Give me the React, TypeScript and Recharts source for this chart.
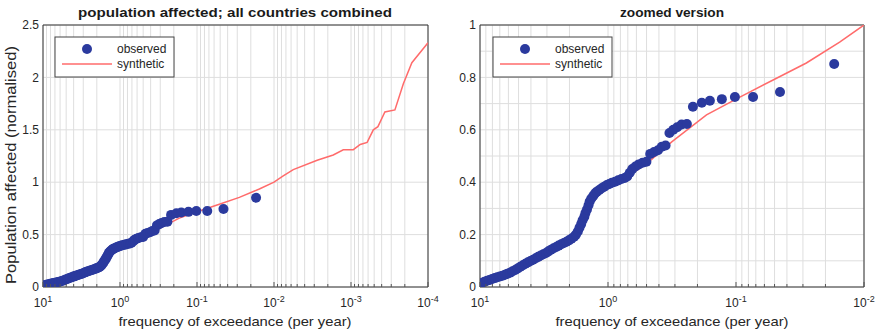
import React from 'react';
import { ComposedChart, Line, Scatter, XAxis, YAxis, CartesianGrid, ReferenceArea } from 'recharts';

// observed events: exceedance frequency (per year) and normalised population affected
const observedFreq = [
  10.0, 9.66, 9.23, 8.81, 8.41, 8.04, 7.67, 7.33, 7.0, 6.68, 6.38, 6.1, 5.82, 5.56, 5.31, 5.07,
  4.84, 4.62, 4.42, 4.22, 4.03, 3.85, 3.67, 3.51, 3.35, 3.2, 3.05, 2.92, 2.79, 2.66, 2.54, 2.43,
  2.32, 2.21, 2.11, 2.02, 1.93, 1.84, 1.78, 1.72, 1.67, 1.62, 1.58, 1.53, 1.5, 1.46, 1.42, 1.39,
  1.35, 1.3, 1.26, 1.22, 1.17, 1.12, 1.07, 1.02, 0.977, 0.933, 0.881, 0.832, 0.785, 0.741, 0.708,
  0.676, 0.646, 0.61, 0.575, 0.537, 0.501, 0.468, 0.437, 0.407, 0.38, 0.355, 0.331, 0.309, 0.288,
  0.266, 0.242, 0.217, 0.185, 0.16, 0.129, 0.102, 0.0736, 0.0453, 0.0171,
];
const observedValue = [
  0.01, 0.016, 0.02, 0.024, 0.027, 0.031, 0.034, 0.037, 0.04, 0.043, 0.047, 0.051, 0.055, 0.06, 0.065, 0.071,
  0.077, 0.083, 0.089, 0.094, 0.099, 0.104, 0.11, 0.115, 0.12, 0.125, 0.13, 0.136, 0.142, 0.148, 0.153, 0.158,
  0.163, 0.168, 0.173, 0.178, 0.184, 0.192, 0.2, 0.212, 0.226, 0.24, 0.255, 0.268, 0.282, 0.296, 0.312, 0.326,
  0.338, 0.348, 0.358, 0.364, 0.37, 0.377, 0.383, 0.389, 0.393, 0.398, 0.402, 0.407, 0.412, 0.416, 0.422,
  0.436, 0.45, 0.46, 0.468, 0.474, 0.478, 0.508, 0.515, 0.522, 0.535, 0.54, 0.588, 0.6, 0.61,
  0.62, 0.622, 0.688, 0.703, 0.711, 0.717, 0.725, 0.725, 0.744, 0.851,
];

// synthetic event set
const syntheticFreq = [
  10, 6.31, 3.98, 2.51, 1.78, 1.41, 1.12, 0.794, 0.501, 0.316, 0.17, 0.0933, 0.0513, 0.0282, 0.0155,
  0.01, 0.00759, 0.00562, 0.00275, 0.0017, 0.00126, 0.000933, 0.000759, 0.000617, 0.000513, 0.000447,
  0.000363, 0.000269, 0.000209, 0.000162, 0.0001,
];
const syntheticValue = [
  0.0, 0.045, 0.095, 0.15, 0.195, 0.3, 0.37, 0.405, 0.47, 0.555, 0.657, 0.725, 0.79, 0.855, 0.935,
  1.0, 1.06, 1.12, 1.21, 1.26, 1.31, 1.31, 1.36, 1.38, 1.5, 1.53,
  1.67, 1.69, 1.94, 2.14, 2.33,
];

const leftDecades = [1, 0, -1, -2, -3, -4];
const rightDecades = [1, 0, -1, -2];
const leftYTicks = [0, 0.5, 1, 1.5, 2, 2.5];
const rightYTicks = [0, 0.1, 0.2, 0.3, 0.4, 0.5, 0.6, 0.7, 0.8, 0.9, 1];
const rightYLabels = ['0', '', '0.2', '', '0.4', '', '0.6', '', '0.8', '', '1'];

const observed = observedFreq.map((f, i) => ({ f, v: observedValue[i] }));
const synthetic = syntheticFreq.map((f, i) => ({ f, v: syntheticValue[i] }));

const FONT = '"Liberation Sans", Arial, Helvetica, sans-serif';
const BLUE = '#2b3a9e';
const RED = '#ff6b6b';
const GRID = '#dedede';
const INK = '#262626';

// all log ticks (1..9 x each decade) so the grid has the minor lines too
const logTicks = (decades: number[]) => {
  const lo = Math.min(...decades);
  const hi = Math.max(...decades);
  const out: number[] = [];
  for (let d = lo; d < hi; d++) {
    for (let k = 1; k <= 9; k++) out.push(k * Math.pow(10, d));
  }
  out.push(Math.pow(10, hi));
  return out;
};

const PowTick = (props: any) => {
  const { x, y, payload } = props;
  const e = Math.log10(payload.value);
  const major = Math.abs(e - Math.round(e)) < 1e-6;
  return (
    <g>
      <line x1={x} x2={x} y1={y} y2={y - (major ? 5 : 3)} stroke="#555" strokeWidth={1} />
      {major && (
        <text x={x} y={y + 20} textAnchor="middle" fontSize={12} fill={INK} fontFamily={FONT}>
          <tspan>10</tspan>
          <tspan dy={-5} fontSize={9}>{Math.round(e)}</tspan>
        </text>
      )}
    </g>
  );
};

const dot = (p: any) => <circle cx={p.cx} cy={p.cy} r={5} fill={BLUE} />;

type PanelProps = {
  decades: number[];
  yTicks: number[];
  yMax: number;
  yFormat?: (v: number, i: number) => string;
  width: number;
  margin: { top: number; right: number; bottom: number; left: number };
};

const Panel: React.FC<PanelProps> = ({ decades, yTicks, yMax, yFormat, width, margin }) => {
  const xMin = Math.pow(10, Math.min(...decades));
  const xMax = Math.pow(10, Math.max(...decades));
  return (
    <ComposedChart width={width} height={334} margin={margin}>
      <CartesianGrid stroke={GRID} strokeWidth={1} />
      <XAxis
        dataKey="f"
        type="number"
        scale="log"
        domain={[xMin, xMax]}
        reversed
        allowDataOverflow
        ticks={logTicks(decades)}
        interval={0}
        tick={<PowTick />}
        tickLine={false}
        tickSize={0}
        tickMargin={0}
        axisLine={false}
        height={30}
      />
      <YAxis
        dataKey="v"
        type="number"
        domain={[0, yMax]}
        allowDataOverflow
        ticks={yTicks}
        interval={0}
        tickFormatter={yFormat}
        tick={{ fontSize: 12, fill: INK, fontFamily: FONT }}
        tickLine={false}
        tickSize={2}
        tickMargin={2}
        axisLine={false}
        width={30}
      />
      <Line
        data={synthetic}
        dataKey="v"
        type="linear"
        stroke={RED}
        strokeWidth={1.5}
        dot={false}
        isAnimationActive={false}
      />
      <Scatter data={observed} dataKey="v" shape={dot} isAnimationActive={false} />
      <ReferenceArea x1={xMin} x2={xMax} y1={0} y2={yMax} fill="none" fillOpacity={0} stroke="#333" strokeWidth={1} />
    </ComposedChart>
  );
};

const LegendBox: React.FC<{ x: number; y: number }> = ({ x, y }) => (
  <g>
    <rect x={x} y={y} width={119} height={40} fill="#fff" stroke="#444" strokeWidth={1} />
    <circle cx={x + 32} cy={y + 12} r={5} fill={BLUE} />
    <text x={x + 62} y={y + 16} fontSize={12} fill={INK} fontFamily={FONT}>observed</text>
    <line x1={x + 7} x2={x + 57} y1={y + 27} y2={y + 27} stroke={RED} strokeWidth={1.5} />
    <text x={x + 62} y={y + 31} fontSize={12} fill={INK} fontFamily={FONT}>synthetic</text>
  </g>
);

const App: React.FC = () => {
  return (
    <div style={{ position: 'absolute', left: 0, top: 0, width: 877, height: 334, background: '#fff' }}>
      <div style={{ position: 'absolute', left: 0, top: 0 }}>
        <Panel
          decades={leftDecades}
          yTicks={leftYTicks}
          yMax={2.5}
          width={440}
          margin={{ top: 25, right: 12, bottom: 17, left: 13 }}
        />
      </div>
      <div style={{ position: 'absolute', left: 440, top: 0 }}>
        <Panel
          decades={rightDecades}
          yTicks={rightYTicks}
          yMax={1}
          yFormat={(v, i) => rightYLabels[i] ?? String(v)}
          width={437}
          margin={{ top: 25, right: 13, bottom: 17, left: 10 }}
        />
      </div>
      <svg
        width={877}
        height={334}
        style={{ position: 'absolute', left: 0, top: 0, pointerEvents: 'none' }}
        fontFamily={FONT}
      >
        <text x={235} y={17} textAnchor="middle" fontSize={13} fontWeight="bold" fill="#1a1a1a"
          textLength={314} lengthAdjust="spacingAndGlyphs">
          population affected; all countries combined
        </text>
        <text x={672} y={17} textAnchor="middle" fontSize={13} fontWeight="bold" fill="#1a1a1a"
          textLength={104} lengthAdjust="spacingAndGlyphs">
          zoomed version
        </text>
        <text x={235} y={326} textAnchor="middle" fontSize={13} fill={INK}
          textLength={233} lengthAdjust="spacingAndGlyphs">
          frequency of exceedance (per year)
        </text>
        <text x={672} y={326} textAnchor="middle" fontSize={13} fill={INK}
          textLength={233} lengthAdjust="spacingAndGlyphs">
          frequency of exceedance (per year)
        </text>
        <text x={16} y={165} textAnchor="middle" fontSize={14} fill={INK} transform="rotate(-90, 16, 165)"
          textLength={238} lengthAdjust="spacingAndGlyphs">
          Population affected (normalised)
        </text>
        <LegendBox x={55} y={37} />
        <LegendBox x={493} y={37} />
      </svg>
    </div>
  );
};

export default App;
